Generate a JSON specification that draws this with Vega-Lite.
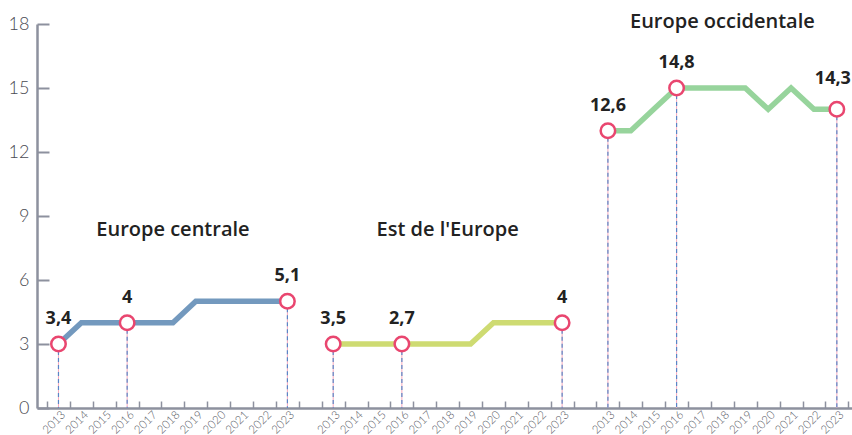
{
  "$schema": "https://vega.github.io/schema/vega-lite/v6.json",
  "width": 815,
  "height": 384,
  "autosize": "none",
  "padding": {"left": 37, "top": 24, "right": 0, "bottom": 27},
  "background": "white",
  "config": {"view": {"stroke": null}, "font": "Lato"},
  "datasets": {
    "series": [
      {"region": "Europe centrale", "key": "C2013", "value": 3, "label": "3,4"},
      {"region": "Europe centrale", "key": "C2014", "value": 4, "label": null},
      {"region": "Europe centrale", "key": "C2015", "value": 4, "label": null},
      {"region": "Europe centrale", "key": "C2016", "value": 4, "label": "4"},
      {"region": "Europe centrale", "key": "C2017", "value": 4, "label": null},
      {"region": "Europe centrale", "key": "C2018", "value": 4, "label": null},
      {"region": "Europe centrale", "key": "C2019", "value": 5, "label": null},
      {"region": "Europe centrale", "key": "C2020", "value": 5, "label": null},
      {"region": "Europe centrale", "key": "C2021", "value": 5, "label": null},
      {"region": "Europe centrale", "key": "C2022", "value": 5, "label": null},
      {"region": "Europe centrale", "key": "C2023", "value": 5, "label": "5,1"},
      {"region": "Est de l'Europe", "key": "E2013", "value": 3, "label": "3,5"},
      {"region": "Est de l'Europe", "key": "E2014", "value": 3, "label": null},
      {"region": "Est de l'Europe", "key": "E2015", "value": 3, "label": null},
      {"region": "Est de l'Europe", "key": "E2016", "value": 3, "label": "2,7"},
      {"region": "Est de l'Europe", "key": "E2017", "value": 3, "label": null},
      {"region": "Est de l'Europe", "key": "E2018", "value": 3, "label": null},
      {"region": "Est de l'Europe", "key": "E2019", "value": 3, "label": null},
      {"region": "Est de l'Europe", "key": "E2020", "value": 4, "label": null},
      {"region": "Est de l'Europe", "key": "E2021", "value": 4, "label": null},
      {"region": "Est de l'Europe", "key": "E2022", "value": 4, "label": null},
      {"region": "Est de l'Europe", "key": "E2023", "value": 4, "label": "4"},
      {"region": "Europe occidentale", "key": "O2013", "value": 13, "label": "12,6"},
      {"region": "Europe occidentale", "key": "O2014", "value": 13, "label": null},
      {"region": "Europe occidentale", "key": "O2015", "value": 14, "label": null},
      {"region": "Europe occidentale", "key": "O2016", "value": 15, "label": "14,8"},
      {"region": "Europe occidentale", "key": "O2017", "value": 15, "label": null},
      {"region": "Europe occidentale", "key": "O2018", "value": 15, "label": null},
      {"region": "Europe occidentale", "key": "O2019", "value": 15, "label": null},
      {"region": "Europe occidentale", "key": "O2020", "value": 14, "label": null},
      {"region": "Europe occidentale", "key": "O2021", "value": 15, "label": null},
      {"region": "Europe occidentale", "key": "O2022", "value": 14, "label": null},
      {"region": "Europe occidentale", "key": "O2023", "value": 14, "label": "14,3"}
    ],
    "titles": [
      {"region": "Europe centrale", "key": "C2018", "level": 8.35},
      {"region": "Est de l'Europe", "key": "E2018", "level": 8.35},
      {"region": "Europe occidentale", "key": "O2018", "level": 18.1}
    ]
  },
  "encoding": {
    "x": {
      "field": "key",
      "type": "nominal",
      "scale": {
        "domain": ["C2013","C2014","C2015","C2016","C2017","C2018","C2019","C2020","C2021","C2022","C2023","g1",
                   "E2013","E2014","E2015","E2016","E2017","E2018","E2019","E2020","E2021","E2022","E2023","g2",
                   "O2013","O2014","O2015","O2016","O2017","O2018","O2019","O2020","O2021","O2022","O2023"],
        "type": "band",
        "paddingInner": 0,
        "paddingOuter": 0.3,
        "align": 0.73
      },
      "axis": {
        "title": null,
        "labelExpr": "indexof(datum.label, 'g') == 0 ? '' : slice(datum.label, 1)",
        "labelAngle": -45,
        "labelAlign": "right",
        "labelBaseline": "middle",
        "labelFontSize": 11.5,
        "labelColor": "#55585f",
        "labelFontWeight": 300,
        "labelPadding": 12,
        "labelOffset": 5,
        "tickBand": "extent",
        "tickSize": -7,
        "tickColor": "#8d919e",
        "tickWidth": 1.5,
        "domainColor": "#8d919e",
        "domainWidth": 2.5,
        "grid": false
      }
    }
  },
  "layer": [
    {
      "data": {"name": "series"},
      "transform": [{"filter": "datum.label != null"}],
      "mark": {"type": "rule", "color": "#f4a9bd", "strokeWidth": 1},
      "encoding": {
        "y": {"field": "value", "type": "quantitative"},
        "y2": {"datum": 0}
      }
    },
    {
      "data": {"name": "series"},
      "transform": [{"filter": "datum.label != null"}],
      "mark": {"type": "rule", "color": "#5a86c6", "strokeWidth": 1.2, "strokeDash": [4, 3]},
      "encoding": {
        "y": {"field": "value", "type": "quantitative"},
        "y2": {"datum": 0}
      }
    },
    {
      "data": {"name": "series"},
      "mark": {"type": "line", "strokeWidth": 5.5, "strokeJoin": "miter"},
      "encoding": {
        "y": {
          "field": "value",
          "type": "quantitative",
          "scale": {"domain": [0, 18], "nice": false},
          "axis": {
            "title": null,
            "values": [0, 3, 6, 9, 12, 15, 18],
            "grid": false,
            "labelFontSize": 18,
            "labelColor": "#4a4a52",
            "labelFontWeight": 300,
            "tickSize": -12,
            "labelPadding": 20,
            "tickColor": "#8d919e",
            "tickWidth": 2,
            "domainColor": "#8d919e",
            "domainWidth": 2.5
          }
        },
        "color": {
          "field": "region",
          "type": "nominal",
          "scale": {
            "domain": ["Europe centrale", "Est de l'Europe", "Europe occidentale"],
            "range": ["#7399be", "#cedb72", "#97d49c"]
          },
          "legend": null
        }
      }
    },
    {
      "data": {"name": "series"},
      "transform": [{"filter": "datum.label != null"}],
      "mark": {"type": "point", "filled": true, "fill": "white", "stroke": "#e9466f", "strokeWidth": 2.5, "size": 210, "opacity": 1},
      "encoding": {
        "y": {"field": "value", "type": "quantitative"}
      }
    },
    {
      "data": {"name": "series"},
      "transform": [{"filter": "datum.label != null"}],
      "mark": {
        "type": "text",
        "font": "Open Sans",
        "dy": {"expr": "datum.key == 'O2023' ? -30 : -25"},
        "dx": {"expr": "datum.key == 'O2023' ? -4 : 0"},
        "fontSize": 18,
        "fontWeight": "bold",
        "color": "#222222"
      },
      "encoding": {
        "y": {"field": "value", "type": "quantitative"},
        "text": {"field": "label"}
      }
    },
    {
      "data": {"name": "titles"},
      "mark": {"type": "text", "font": "Open Sans", "fontSize": 20, "fontWeight": 600, "color": "#222222"},
      "encoding": {
        "y": {"field": "level", "type": "quantitative"},
        "text": {"field": "region"}
      }
    }
  ]
}
